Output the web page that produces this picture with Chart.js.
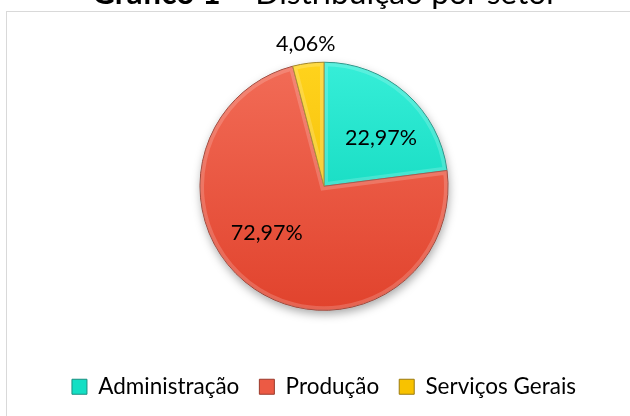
<!DOCTYPE html>
<html><head><meta charset="utf-8">
<script src="https://cdn.jsdelivr.net/npm/chart.js@4.4.1/dist/chart.umd.min.js"></script>
<style>html,body{margin:0;padding:0;background:#fff;overflow:hidden}#wrap{width:630px;height:416px;position:relative}</style>
</head><body><div id="wrap"><canvas id="c" width="630" height="416"></canvas></div>
<script>
// ---- data ----
const categories = ['Administração', 'Produção', 'Serviços Gerais'];
const percentages = [22.97, 72.97, 4.06];
const titleBold = 'Gráfico 1';
const titleRest = ' – Distribuição por setor';

// ---- styles ----
const FONT = 'Lato, "Open Sans", sans-serif';
const gradStops = [['#36eed8', '#00cfb3'], ['#f26c57', '#e1432d'], ['#ffd31c', '#eeb200']];
const flat = ['#13dfc4', '#ec5a44', '#f8c200'];
const edge = ['#1a8f80', '#9a3a2c', '#9a7a10'];
const PIE_R = 124;

const fmt = v => v.toFixed(2).replace('.', ',') + '%';

function sliceFill(ctx) {
  const chart = ctx.chart, i = ctx.dataIndex, ca = chart.chartArea;
  if (!ca) return flat[i];
  const cy = (ca.top + ca.bottom) / 2;
  const g = chart.ctx.createLinearGradient(0, cy - PIE_R, 0, cy + PIE_R);
  g.addColorStop(0, gradStops[i][0]);
  g.addColorStop(1, gradStops[i][1]);
  return g;
}

const framePlugin = {
  id: 'frame',
  beforeDraw(chart) {
    const ctx = chart.ctx;
    ctx.save();
    ctx.fillStyle = '#fff';
    ctx.fillRect(0, 0, chart.width, chart.height);
    ctx.strokeStyle = '#d9d9d9';
    ctx.lineWidth = 1;
    ctx.strokeRect(6.5, 11.5, 700, 500);
    // title (only its lower part is visible, as in the reference)
    const target = 466;
    ctx.font = `bold 100px ${FONT}`;
    const wb = ctx.measureText(titleBold).width;
    ctx.font = `100px ${FONT}`;
    const wr = ctx.measureText(titleRest).width;
    const size = 100 * target / (wb + wr);
    let x = 92;
    ctx.fillStyle = '#000';
    ctx.textBaseline = 'alphabetic';
    ctx.textAlign = 'left';
    ctx.font = `bold ${size}px ${FONT}`;
    ctx.fillText(titleBold, x, 4);
    x += ctx.measureText(titleBold).width;
    ctx.font = `${size}px ${FONT}`;
    ctx.fillText(titleRest, x, 4);
    ctx.restore();
  },
  beforeDatasetsDraw(chart) {
    const meta = chart.getDatasetMeta(0);
    const a = meta.data[0];
    if (!a) return;
    const ctx = chart.ctx;
    ctx.save();
    ctx.shadowColor = 'rgba(0,0,0,0.35)';
    ctx.shadowBlur = 10;
    ctx.shadowOffsetY = 4;
    ctx.shadowOffsetX = 1;
    ctx.beginPath();
    ctx.arc(a.x, a.y, a.outerRadius, 0, Math.PI * 2);
    ctx.fillStyle = '#fff';
    ctx.fill();
    ctx.restore();
  }
};

const labelPlugin = {
  id: 'sliceLabels',
  afterDatasetsDraw(chart, args, opts) {
    const ctx = chart.ctx, meta = chart.getDatasetMeta(0);
    ctx.save();
    // soft bevel highlight inside each slice
    meta.data.forEach((arc) => {
      const p = arc.getProps(['x', 'y', 'startAngle', 'endAngle', 'outerRadius'], true);
      ctx.save();
      ctx.beginPath();
      ctx.moveTo(p.x, p.y);
      ctx.arc(p.x, p.y, p.outerRadius, p.startAngle, p.endAngle);
      ctx.closePath();
      ctx.clip();
      ctx.strokeStyle = 'rgba(255,255,255,0.18)';
      ctx.lineWidth = 8;
      ctx.stroke();
      ctx.restore();
    });
    ctx.font = `21.5px ${FONT}`;
    ctx.fillStyle = '#000';
    ctx.textAlign = 'center';
    ctx.textBaseline = 'middle';
    meta.data.forEach((arc, i) => {
      const p = arc.getProps(['x', 'y', 'startAngle', 'endAngle', 'outerRadius'], true);
      const pl = opts.place[i];
      const ang = p.startAngle + (p.endAngle - p.startAngle) * pl[0];
      const r = p.outerRadius * pl[1];
      ctx.fillText(fmt(percentages[i]), p.x + Math.cos(ang) * r, p.y + Math.sin(ang) * r);
    });
    ctx.restore();
  }
};

new Chart(document.getElementById('c'), {
  type: 'pie',
  data: {
    labels: categories,
    datasets: [{
      data: percentages,
      backgroundColor: sliceFill,
      borderColor: edge,
      borderWidth: 1
    }]
  },
  options: {
    responsive: false,
    animation: false,
    radius: PIE_R,
    layout: { padding: { left: 18, right: 0, top: 17, bottom: 8 } },
    plugins: {
      tooltip: { enabled: false },
      title: { display: false },
      sliceLabels: { place: [[0.6, 0.603], [0.564, 0.595], [0.5, 1.158]] },
      legend: {
        position: 'bottom',
        labels: {
          font: { size: 22.5, family: FONT },
          color: '#000',
          boxWidth: 15,
          boxHeight: 15,
          padding: 20,
          generateLabels() {
            return categories.map((c, i) => ({
              text: c, fillStyle: flat[i], strokeStyle: edge[i], lineWidth: 1,
              hidden: false, index: i, fontColor: '#000'
            }));
          }
        }
      }
    }
  },
  plugins: [framePlugin, labelPlugin]
});
</script>
</body></html>
